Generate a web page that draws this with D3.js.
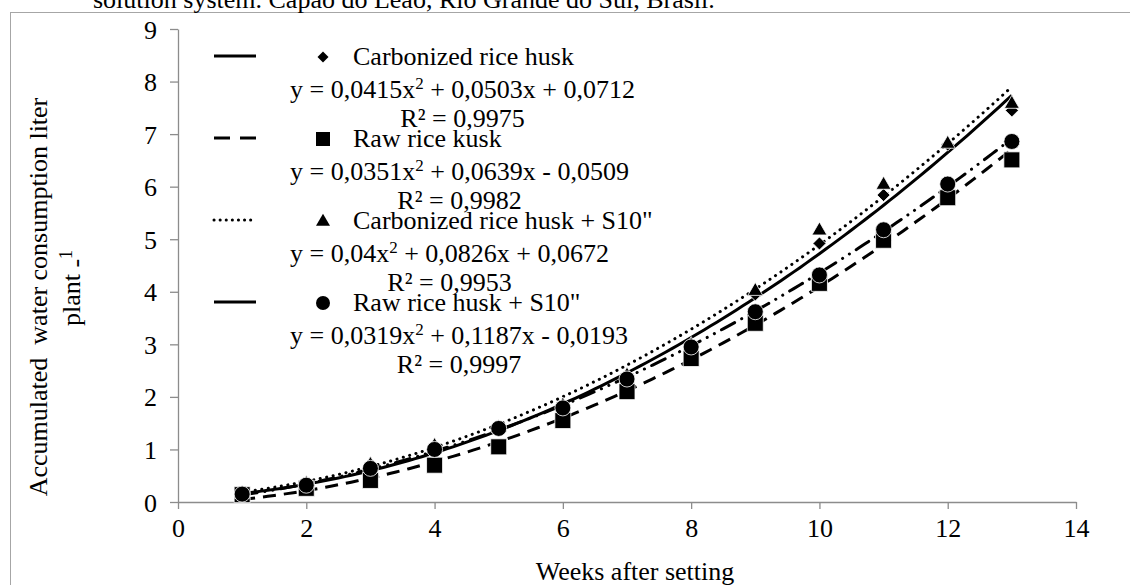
<!DOCTYPE html>
<html>
<head>
<meta charset="utf-8">
<script src="https://d3js.org/d3.v7.min.js"></script>
<style>
  body { margin: 0; background: #fff; }
  svg text { font-family: "Liberation Serif", "Times New Roman", serif; fill: #000; }
</style>
</head>
<body>
<svg id="chart" width="1130" height="585"></svg>
<script>
// ---- data ----
const weeks = [1, 2, 3, 4, 5, 6, 7, 8, 9, 10, 11, 12, 13];
const carbonized    = [0.15, 0.32, 0.62, 0.98, 1.40, 1.80, 2.35, 2.95, 3.95, 4.92, 5.84, 6.80, 7.45];
const raw           = [0.14, 0.26, 0.41, 0.70, 1.05, 1.55, 2.10, 2.73, 3.40, 4.16, 4.98, 5.79, 6.51];
const carbonizedS10 = [0.17, 0.36, 0.72, 1.08, 1.42, 1.85, 2.42, 3.00, 4.03, 5.18, 6.05, 6.83, 7.59];
const rawS10        = [0.15, 0.32, 0.64, 1.00, 1.40, 1.79, 2.34, 2.95, 3.62, 4.32, 5.18, 6.05, 6.86];

const seriesNames = ["Carbonized rice husk", "Raw rice kusk", "Carbonized rice husk + S10\"", "Raw rice husk + S10\""];
// trendline coefficients a, b, c of y = a x^2 + b x + c
const trendCoef = [[0.0415, 0.0503, 0.0712], [0.0351, 0.0639, -0.0509], [0.04, 0.0826, 0.0672], [0.0319, 0.1187, -0.0193]];
const eqFirst  = ["y = 0,0415x", "y = 0,0351x", "y = 0,04x", "y = 0,0319x"];
const eqRest   = [" + 0,0503x + 0,0712", " + 0,0639x - 0,0509", " + 0,0826x + 0,0672", " + 0,1187x - 0,0193"];
const rSquared = ["0,9975", "0,9982", "0,9953", "0,9997"];

const xTicks = [0, 2, 4, 6, 8, 10, 12, 14];
const yTicks = [0, 1, 2, 3, 4, 5, 6, 7, 8, 9];

const titleText = "solution system. Capão do Leão, Rio Grande do Sul, Brasil.";
const xTitle = "Weeks after setting";
const yTitle = "Accumulated\u00a0\u00a0water consumption liter";

const allSeries = [carbonized, raw, carbonizedS10, rawS10];
const markers = ["diamond", "square", "triangle", "circle"];
const dashes = [null, "13,8", "0.1,6.5", "15,8,0.1,8,0.1,8"];
const legendDashes = [null, "16,10", "0.1,6", null];

// ---- setup ----
const svg = d3.select("#chart");
const FS = 26;
const x = d3.scaleLinear().domain([0, 14]).range([178, 1076]);
const y = d3.scaleLinear().domain([0, 9]).range([502, 29]);

// outer frame and the clipped caption above it
svg.append("rect").attr("x", 10.5).attr("y", 12.5).attr("width", 1140).attr("height", 600)
  .attr("fill", "none").attr("stroke", "#a6a6a6").attr("stroke-width", 1);
svg.append("text").attr("x", 93).attr("y", 8).attr("font-size", FS).text(titleText);

// axes
const gx = svg.append("g").attr("transform", "translate(0,502)")
  .call(d3.axisBottom(x).tickValues(xTicks).tickSize(7).tickSizeOuter(0).tickPadding(10));
const gy = svg.append("g").attr("transform", "translate(178,0)")
  .call(d3.axisLeft(y).tickValues(yTicks).tickSize(8).tickSizeOuter(0).tickPadding(13));
[gx, gy].forEach(function(g) {
  g.selectAll("path, line").attr("stroke", "#8c8c8c").attr("stroke-width", 1.3);
  g.selectAll("text").attr("font-size", FS).attr("font-family", "Liberation Serif");
});
gy.selectAll("text").attr("dy", "0.35em");

// axis titles
svg.append("text").attr("x", 635).attr("y", 580).attr("text-anchor", "middle")
  .attr("font-size", FS).text(xTitle);
svg.append("text").attr("transform", "translate(47,297) rotate(-90)").attr("text-anchor", "middle")
  .attr("font-size", FS).text(yTitle);
const yt2 = svg.append("text").attr("transform", "translate(80,288) rotate(-90)").attr("text-anchor", "middle")
  .attr("font-size", FS);
yt2.append("tspan").text("plant ");
yt2.append("tspan").attr("dy", 4).text("-");
yt2.append("tspan").attr("dy", -12).attr("font-size", 18).text("1");

// marker shapes
function markerPath(type, s) {
  const h = s / 2;
  if (type === "diamond") return "M0," + (-h) + "L" + h + ",0L0," + h + "L" + (-h) + ",0Z";
  if (type === "square") return "M" + (-h) + "," + (-h) + "h" + s + "v" + s + "h" + (-s) + "Z";
  if (type === "triangle") {
    const th = s * 0.866;
    return "M0," + (-th * 0.6) + "L" + h + "," + (th * 0.4) + "L" + (-h) + "," + (th * 0.4) + "Z";
  }
  return d3.symbol(d3.symbolCircle, Math.PI * h * h)();
}
const plotSize = { diamond: 13, square: 16, triangle: 15, circle: 16 };
const legendSize = { diamond: 11, square: 14, triangle: 14, circle: 14 };

// trendlines
const line = d3.line().x(function(d) { return x(d[0]); }).y(function(d) { return y(d[1]); });
trendCoef.forEach(function(c, i) {
  const pts = d3.range(1, 13.001, 0.1).map(function(t) { return [t, c[0] * t * t + c[1] * t + c[2]]; });
  svg.append("path").datum(pts).attr("d", line)
    .attr("fill", "none").attr("stroke", "#000").attr("stroke-width", 3)
    .attr("stroke-linecap", dashes[i] && dashes[i].indexOf("0.1") >= 0 ? "round" : "butt")
    .attr("stroke-dasharray", dashes[i]);
});

// data markers
allSeries.forEach(function(vals, i) {
  svg.append("g").selectAll("path").data(vals).join("path")
    .attr("transform", function(d, k) { return "translate(" + x(weeks[k]) + "," + y(d) + ")"; })
    .attr("d", markerPath(markers[i], plotSize[markers[i]]))
    .attr("fill", "#000").attr("stroke", "#fff").attr("stroke-width", 0.8);
});

// legend
const legendTop = 65, entryGap = 82;
seriesNames.forEach(function(name, i) {
  const b = legendTop + i * entryGap;
  const g = svg.append("g");
  g.append("line").attr("x1", 214).attr("x2", 256).attr("y1", b - 9).attr("y2", b - 9)
    .attr("stroke", "#000").attr("stroke-width", 3)
    .attr("stroke-linecap", legendDashes[i] && legendDashes[i].indexOf("0.1") >= 0 ? "round" : "butt")
    .attr("stroke-dasharray", legendDashes[i]);
  g.append("path").attr("transform", "translate(323," + (b - 8) + ")")
    .attr("d", markerPath(markers[i], legendSize[markers[i]])).attr("fill", "#000");
  g.append("text").attr("x", 353).attr("y", b).attr("font-size", FS).text(name);
  const eq = g.append("text").attr("x", 290).attr("y", b + 33).attr("font-size", FS);
  eq.append("tspan").text(eqFirst[i]);
  eq.append("tspan").attr("dy", -9).attr("font-size", 17).text("2");
  eq.append("tspan").attr("dy", 9).text(eqRest[i]);
  const w = eq.node().getComputedTextLength();
  g.append("text").attr("x", 290 + w / 2).attr("y", b + 62).attr("text-anchor", "middle")
    .attr("font-size", FS).text("R\u00b2 = " + rSquared[i]);
});
</script>
</body>
</html>
